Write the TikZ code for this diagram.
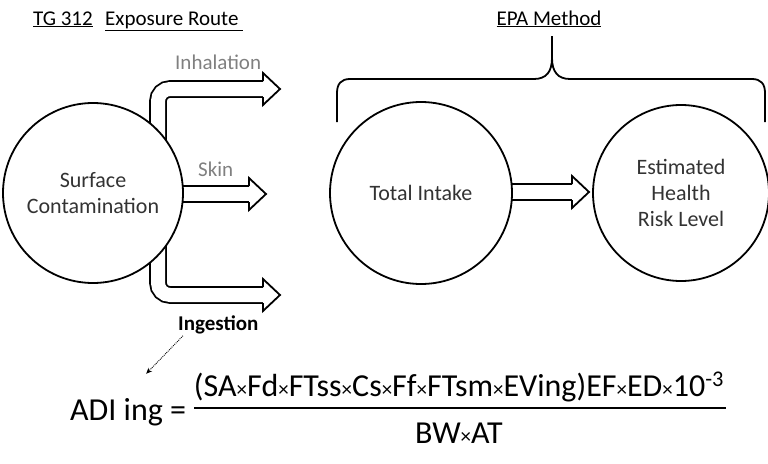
\documentclass[tikz,border=0pt]{standalone}
\usepackage{fontspec}
\setmainfont{Carlito}
\usetikzlibrary{arrows.meta}
\pgfdeclarelayer{back}
\pgfsetlayers{back,main}
\tikzset{
  stage/.style={draw, circle, line width=1.8pt, fill=white, align=center, text=black!80, font=\fontsize{22}{26}\selectfont},
  title/.style={font=\fontsize{21}{25}\selectfont, inner sep=0pt, anchor=base west},
  route/.style={title, text=black!50},
  fat/.style={line width=1.8pt, double=white, double distance=14pt, rounded corners=12pt},
  tiphead/.style={fill=white, draw=black, line width=1.8pt, line join=miter},
  brace/.style={line width=1.8pt},
  hint/.style={densely dotted, line width=0.9pt, -{Stealth[length=6pt, width=5pt]}},
  eqn/.style={font=\fontsize{32}{36}\selectfont, inner sep=0pt, anchor=base},
}
\newcommand{\openhead}[1]{\filldraw[tiphead] ([shift={(-17,-8)}]#1) -- ++(0,-8) -- (#1) -- ([shift={(-17,16)}]#1) -- ++(0,-8);}
\newcommand{\tms}{{\fontsize{21}{21}\selectfont ×}}

\begin{document}
\begin{tikzpicture}[x=1pt, y=-1pt]
  \useasboundingbox (0,0) rectangle (768,463);
  \node[title] (tg) at (33,25) {\underline{TG 312}};
  \node[title] (expo) at (105,25) {\underline{Exposure Route\ }};
  \node[title, anchor=base] (epa) at (549,25) {\underline{EPA Method}};

  \node[stage, minimum size=180pt] (surf) at (93,193) {Surface\\Contamination};
  \node[stage, minimum size=182pt] (intake) at (421,193) {Total Intake};
  \node[stage, minimum size=176pt] (risk) at (681,193) {Estimated\\Health\\Risk Level};

  \coordinate (inhBend) at (158,89);
  \coordinate (ingBend) at (158,295);
  \coordinate (inhTip) at (280,89);
  \coordinate (skinTip) at (266,194);
  \coordinate (ingTip) at (280,295);
  \coordinate (riskTip) at (589,192);
  \begin{pgfonlayer}{back}
    \draw[fat] (surf.center -| inhBend) -- (inhBend) -- ([xshift=-16pt]inhTip);
    \draw[fat] (surf.center -| ingBend) -- (ingBend) -- ([xshift=-16pt]ingTip);
    \draw[fat] (surf.center |- skinTip) -- ([xshift=-16pt]skinTip);
    \draw[fat] (intake.center |- riskTip) -- ([xshift=-16pt]riskTip);
  \end{pgfonlayer}
  \openhead{inhTip}
  \openhead{skinTip}
  \openhead{ingTip}
  \openhead{riskTip}

  \node[route] (inh) at (175,69) {Inhalation};
  \node[route] (skin) at (198,176) {Skin};
  \node[title, font=\fontsize{21}{25}\selectfont\bfseries] (ing) at (178,330) {Ingestion};

  \draw[brace] (337,122) -- (337,93) .. controls (337,84) and (341,79) .. (350,79) -- (534,79)
    .. controls (546,79) and (552,72) .. (552,58) -- (552,36)
    (552,58) .. controls (552,72) and (558,79) .. (570,79) -- (752,79)
    .. controls (761,79) and (765,84) .. (765,93) -- (765,122);

  \node[eqn, anchor=base west] (adi) at (70,420) {ADI ing =};
  \node[eqn] (num) at (459,396) {(SA\tms Fd\tms FTss\tms Cs\tms Ff\tms FTsm\tms EVing)EF\tms ED\tms 10\textsuperscript{-3}};
  \node[eqn] (den) at (459,443) {BW\tms AT};
  \coordinate (barL) at (194,408);
  \coordinate (barR) at (726,408);
  \draw[line width=1.8pt] (barL) -- (barR);

  \draw[hint] ([xshift=5pt,yshift=-2pt]ing.south west) -- ([xshift=18pt,yshift=24pt]adi.north);
\end{tikzpicture}
\end{document}
